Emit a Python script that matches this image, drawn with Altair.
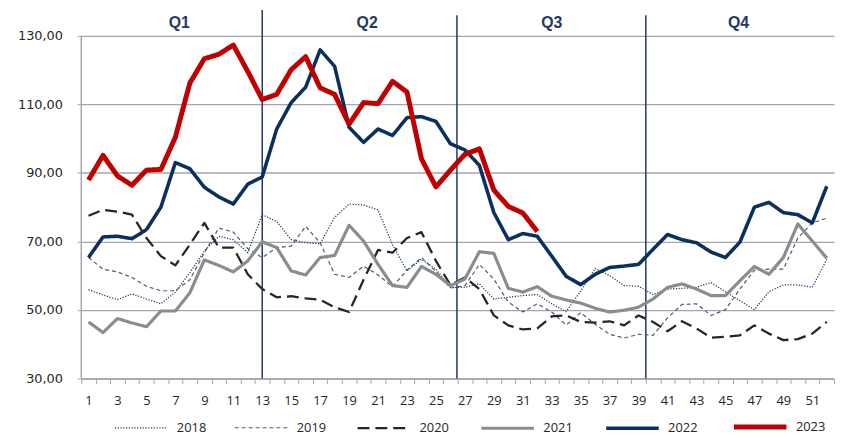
import altair as alt
import pandas as pd

WEEKS = list(range(1, 53))
YEARS = ["2018", "2019", "2020", "2021", "2022", "2023"]

Y2018 = [55.9, 54.4, 53.0, 54.7, 53.2, 51.8, 55.2, 60.9, 67.2, 71.5,
         70.5, 66.7, 77.8, 75.8, 70.5, 69.6, 69.3, 77.0, 80.9, 80.6,
         79.2, 69.0, 61.4, 64.8, 61.9, 56.6, 56.6, 57.6, 53.2, 53.7,
         54.2, 54.5, 51.8, 49.5, 55.5, 62.1, 60.0, 57.1, 56.9, 54.5,
         56.1, 56.3, 56.6, 58.0, 55.3, 52.7, 50.1, 55.3, 57.3, 57.3,
         56.6, 64.8]
Y2019 = [65.3, 61.9, 61.1, 59.5, 56.9, 55.6, 55.6, 58.8, 66.7, 73.9,
         72.7, 67.9, 65.3, 68.2, 68.6, 74.4, 69.6, 60.4, 59.5, 62.8,
         60.2, 56.8, 61.6, 65.3, 61.2, 56.4, 57.1, 63.3, 59.0, 52.3,
         49.4, 51.8, 49.4, 45.6, 49.2, 45.8, 42.9, 41.8, 42.9, 42.6,
         47.7, 51.6, 51.8, 48.4, 50.1, 56.1, 61.6, 61.9, 61.9, 71.0,
         75.4, 76.8]
Y2020 = [77.5, 79.2, 78.7, 77.8, 71.0, 65.7, 63.0, 69.1, 75.4, 68.2,
         68.2, 60.4, 56.1, 53.7, 54.0, 53.4, 53.0, 50.8, 49.4, 58.8,
         67.5, 66.7, 71.0, 72.7, 64.3, 57.3, 59.5, 56.1, 48.4, 45.5,
         44.3, 44.6, 48.1, 48.4, 46.5, 46.3, 46.7, 45.5, 48.4, 46.5,
         43.8, 46.7, 44.6, 41.9, 42.2, 42.6, 45.5, 43.1, 41.2, 41.5,
         43.1, 46.5]
Y2021 = [46.5, 43.4, 47.5, 46.2, 45.1, 49.7, 49.7, 55.0, 64.6, 63.0,
         61.1, 64.3, 69.9, 68.2, 61.4, 60.2, 65.3, 65.9, 74.7, 70.1,
         63.3, 57.1, 56.6, 62.7, 60.4, 57.1, 59.0, 67.0, 66.5, 56.3,
         55.2, 56.8, 54.0, 52.9, 52.0, 50.5, 49.4, 49.9, 50.8, 53.2,
         56.6, 57.6, 56.1, 54.2, 54.2, 58.5, 62.7, 60.4, 65.3, 75.1,
         70.1, 65.1]
Y2022 = [65.3, 71.3, 71.5, 70.8, 73.4, 80.0, 93.0, 91.2, 85.8, 83.0,
         80.9, 86.7, 88.8, 102.8, 110.5, 115.0, 125.9, 121.1, 103.3, 98.9,
         102.8, 100.9, 106.1, 106.4, 105.0, 98.5, 96.7, 92.2, 78.4, 70.5,
         72.3, 71.5, 65.7, 59.8, 57.4, 60.4, 62.4, 62.8, 63.3, 67.7,
         72.0, 70.5, 69.6, 66.9, 65.3, 69.8, 80.0, 81.4, 78.4, 77.8,
         75.4, 86.1]
Y2023 = [87.9, 95.1, 89.1, 86.4, 90.8, 91.0, 100.4, 116.2, 123.3, 124.6,
         127.3, 119.6, 111.4, 112.9, 120.1, 123.9, 114.8, 112.9, 104.2, 110.5,
         110.2, 116.7, 113.6, 94.1, 85.9, 90.8, 95.4, 97.0, 85.0, 80.2,
         78.3, 72.9]
SERIES = [Y2018, Y2019, Y2020, Y2021, Y2022, Y2023]

COLORS = ["#1F3864", "#4A5A78", "#262626", "#8C8C8C", "#0B2F5E", "#C00000"]
DASHES = [[1.2, 1.6], [4, 3], [12, 6], [1, 0], [1, 0], [1, 0]]
WIDTHS = [1.3, 1.2, 2.3, 3.2, 3.6, 5.0]

Y_TICKS = [30, 50, 70, 90, 110, 130]
X_LABELS = list(range(1, 52, 2))
X_TICKS = [w - 0.5 for w in WEEKS] + [52.5]

QUARTERS = ["Q1", "Q2", "Q3", "Q4"]
Q_CENTERS = [7.27, 20.25, 33.0, 45.9]
Q_LABEL_Y = 133.8
Q_BOUNDS = [13.0, 26.45, 39.5]
Q_BOUND_TOPS = [137.5, 136.0, 136.0]

X_DOMAIN = [0.5, 52.5]
Y_DOMAIN = [30, 137.5]

rows = []
for year, series in zip(YEARS, SERIES):
    for w, v in zip(WEEKS, series):
        rows.append({"year": year, "week": w, "value": v})
df = pd.DataFrame(rows)

qdf = pd.DataFrame({"q": QUARTERS, "x": Q_CENTERS, "y": [Q_LABEL_Y] * 4})
bdf = pd.DataFrame({"x": Q_BOUNDS, "top": Q_BOUND_TOPS, "bottom": [min(Y_TICKS)] * 3})
adf = pd.DataFrame({"x": [X_DOMAIN[0]], "y": [min(Y_TICKS)], "y2": [max(Y_TICKS)]})

xscale = alt.Scale(domain=X_DOMAIN, nice=False, zero=False)
yscale = alt.Scale(domain=Y_DOMAIN, nice=False, zero=False)

label_set = ",".join(str(v) for v in X_LABELS)
x_axis = alt.Axis(
    values=X_TICKS,
    labelExpr="indexof([" + label_set + "], datum.value + 0.5) >= 0 ? format(datum.value + 0.5, 'd') : ''",
    labelOffset=7.3,
    labelFlush=False,
    labelOverlap=False,
    labelBound=False,
    grid=False,
    tickSize=5,
    tickColor="#A6A6A6",
    tickWidth=1,
    domainColor="#A6A6A6",
    domainWidth=1.5,
    labelFont="Open Sans",
    labelFontSize=13,
    labelColor="#262626",
    labelPadding=11,
    title=None,
)
y_axis = alt.Axis(
    values=Y_TICKS,
    labelExpr="replace(format(datum.value, '.2f'), '.', ',')",
    grid=True,
    gridColor="#A3A6B2",
    gridWidth=1.3,
    domain=False,
    tickSize=4,
    tickColor="#A6A6A6",
    labelFont="DejaVu Sans",
    labelFontSize=13,
    labelColor="#262626",
    labelPadding=15,
    labelOverlap=False,
    title=None,
)

leg = alt.Legend(
    title=None,
    orient="none",
    legendX=31.5,
    legendY=392,
    direction="horizontal",
    columns=6,
    symbolType="stroke",
    symbolSize=2809,
    columnPadding=26,
    labelOffset=7,
    labelFont="Open Sans",
    labelFontSize=13,
    labelColor="#262626",
    padding=0,
)

lines = alt.Chart(df).mark_line(strokeJoin="round").encode(
    x=alt.X("week:Q", scale=xscale, axis=x_axis),
    y=alt.Y("value:Q", scale=yscale, axis=y_axis),
    color=alt.Color("year:N", scale=alt.Scale(domain=YEARS, range=COLORS), legend=leg),
    strokeDash=alt.StrokeDash("year:N", scale=alt.Scale(domain=YEARS, range=DASHES), legend=leg),
    strokeWidth=alt.StrokeWidth("year:N", scale=alt.Scale(type="ordinal", domain=YEARS, range=WIDTHS), legend=leg),
)

bounds = alt.Chart(bdf).mark_rule(color="#1F3864", strokeWidth=1.5).encode(
    x=alt.X("x:Q", scale=xscale, axis=x_axis),
    y=alt.Y("top:Q", scale=yscale, axis=y_axis),
    y2="bottom:Q",
)

yline = alt.Chart(adf).mark_rule(color="#A6A6A6", strokeWidth=1.5).encode(
    x=alt.X("x:Q", scale=xscale, axis=x_axis),
    y=alt.Y("y:Q", scale=yscale, axis=y_axis),
    y2="y2:Q",
)

qtext = alt.Chart(qdf).mark_text(
    font="Liberation Sans", fontSize=16, fontWeight="bold", color="#1F3864",
    align="center", baseline="middle",
).encode(
    x=alt.X("x:Q", scale=xscale, axis=x_axis),
    y=alt.Y("y:Q", scale=yscale, axis=y_axis),
    text="q:N",
)

chart = alt.layer(bounds, yline, lines, qtext).properties(
    width=760,
    height=372,
    autosize=alt.AutoSizeParams(type="none"),
    padding={"left": 74, "top": 0, "right": 1, "bottom": 58},
).configure_view(stroke=None).configure_axis(labelOverlap=False)

chart.save("out.html", embed_options={"renderer": "svg", "actions": False})
